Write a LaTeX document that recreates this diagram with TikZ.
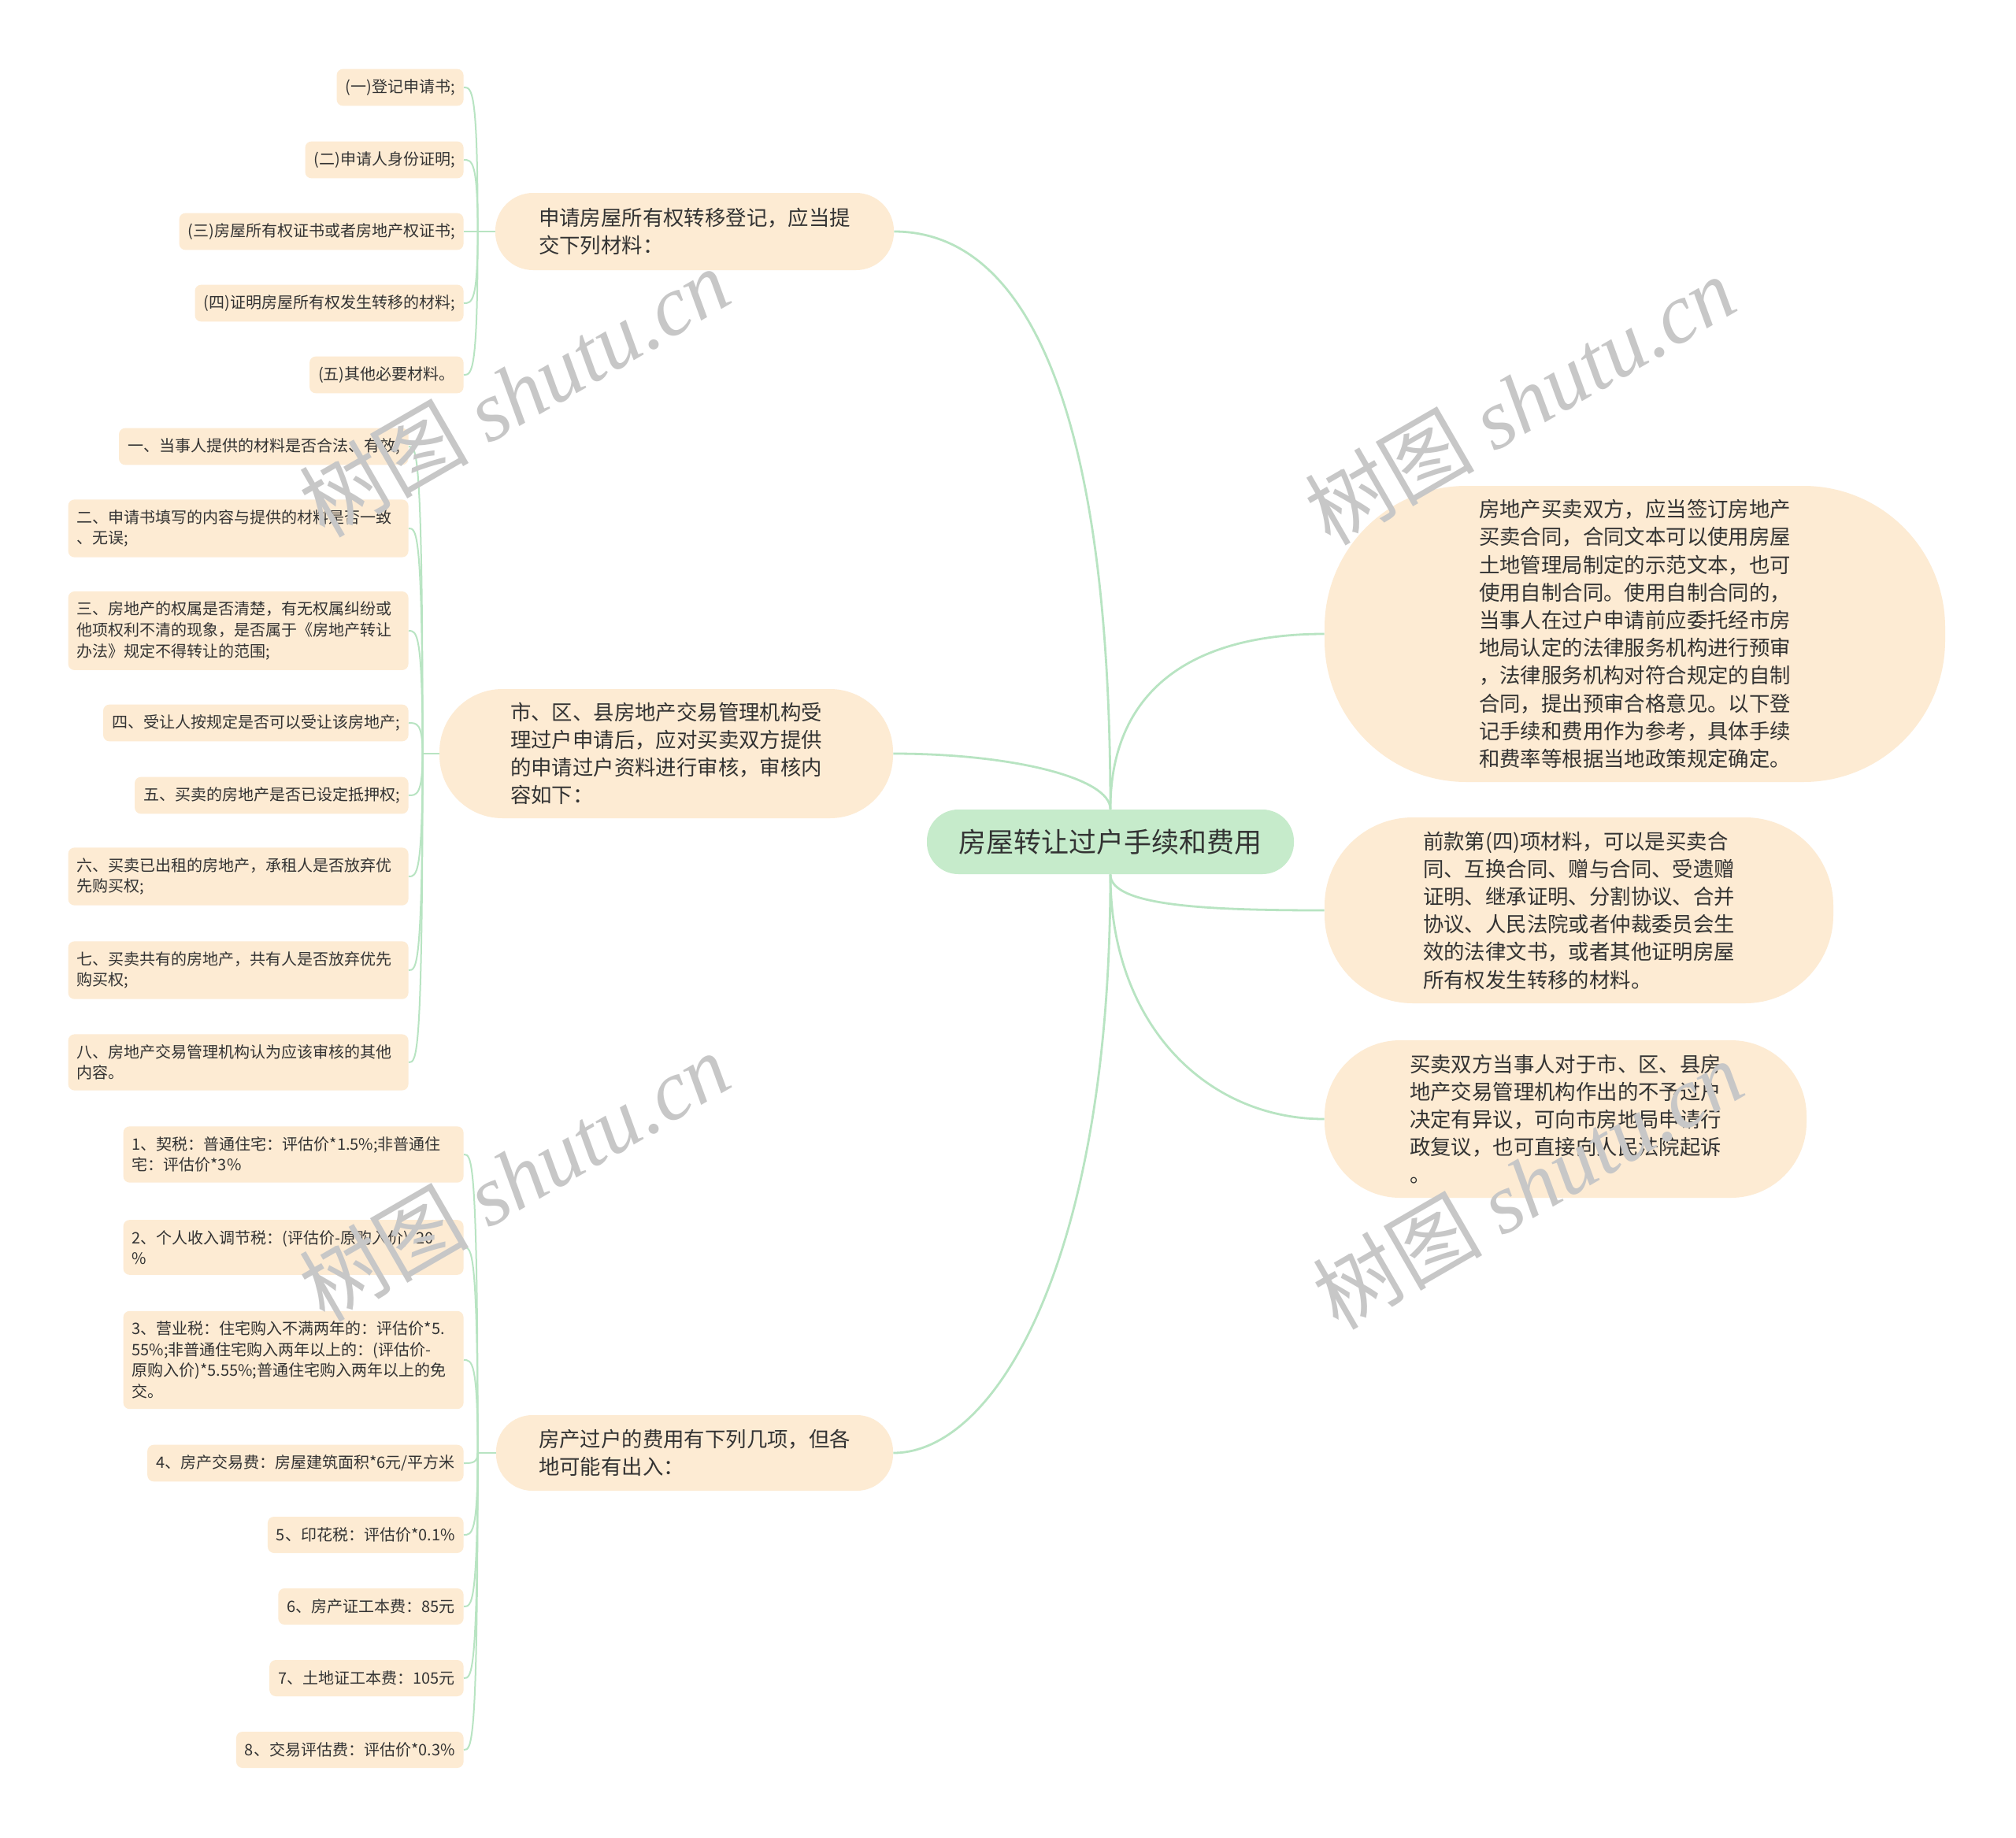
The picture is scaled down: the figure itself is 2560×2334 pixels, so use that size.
\documentclass[tikz,border=0pt]{standalone}
\usepackage{fontspec}
\newfontfamily\cjk{Noto Sans CJK SC}
\newfontfamily\wmserif{Liberation Serif}
\usepackage{tikz}
\usetikzlibrary{calc}
\definecolor{peach}{HTML}{FDEBD3}
\definecolor{rootgreen}{HTML}{C6EBCB}
\definecolor{twiggreen}{HTML}{B8E4C2}
\definecolor{inkgray}{HTML}{333333}

\begin{document}
\begin{tikzpicture}[
    x=0.5pt, y=-0.5pt,
    root/.style={rectangle, rounded corners=20pt, fill=rootgreen, text=inkgray,
                 minimum width=233pt, minimum height=41pt,
                 font=\cjk\fontsize{17.5}{21}\selectfont},
    branch/.style={rectangle, fill=peach, text=inkgray, align=left,
                   font=\cjk\fontsize{13.2}{17.6}\selectfont},
    leaf/.style={rectangle, rounded corners=4pt, fill=peach, text=inkgray, align=left,
                 anchor=east, inner xsep=5.5pt, inner ysep=6.5pt, minimum height=23pt,
                 font=\cjk\fontsize{10}{13.3}\selectfont},
    leafwide/.style={leaf, text width=205pt},
    trunk/.style={draw=twiggreen, line width=1.4pt},
    twig/.style={draw=twiggreen, line width=1pt},
    wmark/.style={rotate=30, text=black!22, font=\fontsize{54}{54}\selectfont}
]
\useasboundingbox (0,0) rectangle (2560,2334);
\fill[white] (0,0) rectangle (2560,2334);

% ================= COORDINATES & NODES =================
\node[root] (Root) at (1410, 1069) {房屋转让过户手续和费用};

\node[branch, minimum width=253pt, minimum height=49pt, rounded corners=24pt] (Apply) at (882, 294)
    {申请房屋所有权转移登记，应当提\\交下列材料：};
\node[branch, minimum width=288pt, minimum height=82pt, rounded corners=40pt] (Review) at (846, 957)
    {市、区、县房地产交易管理机构受\\理过户申请后，应对买卖双方提供\\的申请过户资料进行审核，审核内\\容如下：};
\node[branch, minimum width=252pt, minimum height=48pt, rounded corners=23pt] (Fees) at (882, 1845)
    {房产过户的费用有下列几项，但各\\地可能有出入：};

\node[branch, minimum width=394pt, minimum height=188pt, rounded corners=90pt] (Contract) at (2076, 805)
    {房地产买卖双方，应当签订房地产\\买卖合同，合同文本可以使用房屋\\土地管理局制定的示范文本，也可\\使用自制合同。使用自制合同的，\\当事人在过户申请前应委托经市房\\地局认定的法律服务机构进行预审\\，法律服务机构对符合规定的自制\\合同，提出预审合格意见。以下登\\记手续和费用作为参考，具体手续\\和费率等根据当地政策规定确定。};
\node[branch, minimum width=323pt, minimum height=118pt, rounded corners=56pt] (Proof) at (2005, 1156)
    {前款第(四)项材料，可以是买卖合\\同、互换合同、赠与合同、受遗赠\\证明、继承证明、分割协议、合并\\协议、人民法院或者仲裁委员会生\\效的法律文书，或者其他证明房屋\\所有权发生转移的材料。};
\node[branch, minimum width=306pt, minimum height=100pt, rounded corners=48pt] (Appeal) at (1988, 1421)
    {买卖双方当事人对于市、区、县房\\地产交易管理机构作出的不予过户\\决定有异议，可向市房地局申请行\\政复议，也可直接向人民法院起诉\\。};

% materials
\node[leaf] (Mat1) at (589, 111) {(一)登记申请书;};
\node[leaf] (Mat2) at (589, 203) {(二)申请人身份证明;};
\node[leaf] (Mat3) at (589, 294) {(三)房屋所有权证书或者房地产权证书;};
\node[leaf] (Mat4) at (589, 385) {(四)证明房屋所有权发生转移的材料;};
\node[leaf] (Mat5) at (589, 476) {(五)其他必要材料。};

% review items
\node[leaf] (Chk1) at (519, 567) {一、当事人提供的材料是否合法、有效;};
\node[leafwide] (Chk2) at (519, 671) {二、申请书填写的内容与提供的材料是否一致\\、无误;};
\node[leafwide] (Chk3) at (519, 801) {三、房地产的权属是否清楚，有无权属纠纷或\\他项权利不清的现象，是否属于《房地产转让\\办法》规定不得转让的范围;};
\node[leaf] (Chk4) at (519, 918) {四、受让人按规定是否可以受让该房地产;};
\node[leaf] (Chk5) at (519, 1010) {五、买卖的房地产是否已设定抵押权;};
\node[leafwide] (Chk6) at (519, 1113) {六、买卖已出租的房地产，承租人是否放弃优\\先购买权;};
\node[leafwide] (Chk7) at (519, 1232) {七、买卖共有的房地产，共有人是否放弃优先\\购买权;};
\node[leafwide] (Chk8) at (519, 1349) {八、房地产交易管理机构认为应该审核的其他\\内容。};

% fee items
\node[leafwide] (Fee1) at (589, 1466) {1、契税：普通住宅：评估价*1.5\%;非普通住\\宅：评估价*3\%};
\node[leafwide] (Fee2) at (589, 1584) {2、个人收入调节税：(评估价-原购入价)*20\\\%};
\node[leafwide] (Fee3) at (589, 1727) {3、营业税：住宅购入不满两年的：评估价*5.\\55\%;非普通住宅购入两年以上的：(评估价-\\原购入价)*5.55\%;普通住宅购入两年以上的免\\交。};
\node[leaf] (Fee4) at (589, 1858) {4、房产交易费：房屋建筑面积*6元/平方米};
\node[leaf] (Fee5) at (589, 1949) {5、印花税：评估价*0.1\%};
\node[leaf] (Fee6) at (589, 2040) {6、房产证工本费：85元};
\node[leaf] (Fee7) at (589, 2131) {7、土地证工本费：105元};
\node[leaf] (Fee8) at (589, 2222) {8、交易评估费：评估价*0.3\%};

\path (Apply.west) ++(-22,0) coordinate (JApply);
\path (Review.west) ++(-21,0) coordinate (JReview);
\path (Fees.west) ++(-23,0) coordinate (JFees);

% ================= DRAWING CONNECTORS =================
\draw[trunk] (Root.north) .. controls +(0,-530) and +(160,0) .. (Apply.east);
\draw[trunk] (Root.north) .. controls +(0,-40) and +(150,0) .. (Review.east);
\draw[trunk] (Root.south) .. controls +(0,490) and +(130,0) .. (Fees.east);
\draw[trunk] (Root.north) .. controls +(0,-150) and +(-170,0) .. (Contract.west);
\draw[trunk] (Root.south) .. controls +(0,40) and +(-150,0) .. (Proof.west);
\draw[trunk] (Root.south) .. controls +(0,190) and +(-150,0) .. (Appeal.west);

\draw[twig] (Apply.west) -- (JApply);
\draw[twig] (JApply) .. controls (JApply |- Mat1.east) and +(10,0) .. (Mat1.east);
\draw[twig] (JApply) .. controls (JApply |- Mat2.east) and +(10,0) .. (Mat2.east);
\draw[twig] (JApply) -- (Mat3.east);
\draw[twig] (JApply) .. controls (JApply |- Mat4.east) and +(10,0) .. (Mat4.east);
\draw[twig] (JApply) .. controls (JApply |- Mat5.east) and +(10,0) .. (Mat5.east);

\draw[twig] (Review.west) -- (JReview);
\draw[twig] (JReview) .. controls (JReview |- Chk1.east) and +(10,0) .. (Chk1.east);
\draw[twig] (JReview) .. controls (JReview |- Chk2.east) and +(10,0) .. (Chk2.east);
\draw[twig] (JReview) .. controls (JReview |- Chk3.east) and +(10,0) .. (Chk3.east);
\draw[twig] (JReview) .. controls (JReview |- Chk4.east) and +(10,0) .. (Chk4.east);
\draw[twig] (JReview) .. controls (JReview |- Chk5.east) and +(10,0) .. (Chk5.east);
\draw[twig] (JReview) .. controls (JReview |- Chk6.east) and +(10,0) .. (Chk6.east);
\draw[twig] (JReview) .. controls (JReview |- Chk7.east) and +(10,0) .. (Chk7.east);
\draw[twig] (JReview) .. controls (JReview |- Chk8.east) and +(10,0) .. (Chk8.east);

\draw[twig] (Fees.west) -- (JFees);
\draw[twig] (JFees) .. controls (JFees |- Fee1.east) and +(10,0) .. (Fee1.east);
\draw[twig] (JFees) .. controls (JFees |- Fee2.east) and +(10,0) .. (Fee2.east);
\draw[twig] (JFees) .. controls (JFees |- Fee3.east) and +(10,0) .. (Fee3.east);
\draw[twig] (JFees) .. controls (JFees |- Fee4.east) and +(10,0) .. (Fee4.east);
\draw[twig] (JFees) .. controls (JFees |- Fee5.east) and +(10,0) .. (Fee5.east);
\draw[twig] (JFees) .. controls (JFees |- Fee6.east) and +(10,0) .. (Fee6.east);
\draw[twig] (JFees) .. controls (JFees |- Fee7.east) and +(10,0) .. (Fee7.east);
\draw[twig] (JFees) .. controls (JFees |- Fee8.east) and +(10,0) .. (Fee8.east);

% watermarks
\node[wmark] (Wm1) at (653, 498) {\cjk 树图 \wmserif\itshape shutu.cn};
\node[wmark] (Wm2) at (1930, 508) {\cjk 树图 \wmserif\itshape shutu.cn};
\node[wmark] (Wm3) at (653, 1494) {\cjk 树图 \wmserif\itshape shutu.cn};
\node[wmark] (Wm4) at (1940, 1504) {\cjk 树图 \wmserif\itshape shutu.cn};

\end{tikzpicture}
\end{document}
